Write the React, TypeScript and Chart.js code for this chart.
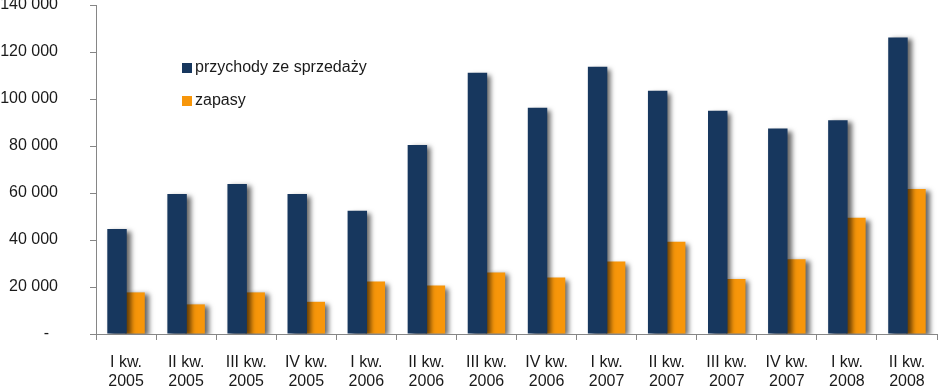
import React, { useEffect, useRef } from "react";
import { Chart, registerables } from "chart.js";

Chart.register(...registerables);

const categories: string[][] = [
  ["I kw.", "2005"], ["II kw.", "2005"], ["III kw.", "2005"], ["IV kw.", "2005"],
  ["I kw.", "2006"], ["II kw.", "2006"], ["III kw.", "2006"], ["IV kw.", "2006"],
  ["I kw.", "2007"], ["II kw.", "2007"], ["III kw.", "2007"], ["IV kw.", "2007"],
  ["I kw.", "2008"], ["II kw.", "2008"],
];

const przychody: number[] = [
  44700, 59600, 63800, 59600, 52500, 80400, 111200, 96300,
  113700, 103500, 95000, 87400, 91000, 126200,
];

const zapasy: number[] = [
  17700, 12600, 17700, 13700, 22300, 20600, 26200, 24000,
  30800, 39300, 23400, 31800, 49500, 61700,
];

const seriesNames: string[] = ["przychody ze sprzedaży", "zapasy"];
const seriesColors: string[] = ["#17375E", "#F7960A"];

const FONT = "'Liberation Sans', Arial, sans-serif";

const fmt = (v: number) =>
  v === 0 ? "-  " : String(v).replace(/\B(?=(\d{3})+(?!\d))/g, " ");

const shadowPlugin = {
  id: "barShadow",
  beforeDatasetsDraw(chart: any) {
    const ctx = chart.ctx;
    ctx.save();
    ctx.shadowColor = "rgba(0,0,0,0.6)";
    ctx.shadowBlur = 5;
    ctx.shadowOffsetX = 4;
    ctx.shadowOffsetY = 2;
  },
  afterDatasetsDraw(chart: any) {
    chart.ctx.restore();
  },
};

const legendPlugin = {
  id: "customLegend",
  afterDraw(chart: any) {
    const ctx = chart.ctx;
    ctx.save();
    const x = 182;
    const ys = [68, 101];
    ctx.font = `16px ${FONT}`;
    ctx.textBaseline = "middle";
    ctx.textAlign = "left";
    seriesNames.forEach((name, i) => {
      ctx.fillStyle = seriesColors[i];
      ctx.fillRect(x, ys[i] - 5, 10, 10);
      ctx.fillStyle = "#1a1a1a";
      ctx.fillText(name, x + 13, ys[i]);
    });
    ctx.restore();
  },
};

export default function App() {
  const ref = useRef<HTMLCanvasElement | null>(null);

  useEffect(() => {
    document.body.style.margin = "0";
    if (!ref.current) return;
    const chart = new Chart(ref.current, {
      type: "bar",
      data: {
        labels: categories,
        datasets: [
          {
            label: seriesNames[0],
            data: przychody,
            backgroundColor: seriesColors[0],
            categoryPercentage: 0.6,
            barPercentage: 1.08,
          },
          {
            label: seriesNames[1],
            data: zapasy,
            backgroundColor: seriesColors[1],
            categoryPercentage: 0.6,
            barPercentage: 1.08,
          },
        ],
      },
      options: {
        animation: false,
        responsive: false,
        maintainAspectRatio: false,
        layout: { padding: { top: 5, right: 3, left: 0, bottom: 0 } },
        plugins: {
          legend: { display: false },
          tooltip: { enabled: false },
        },
        scales: {
          x: {
            grid: {
              display: true,
              drawOnChartArea: false,
              drawTicks: true,
              tickLength: 6,
              color: "#868686",
              offset: true,
            },
            border: { display: true, color: "#868686", width: 1 },
            ticks: {
              color: "#1a1a1a",
              font: { family: FONT, size: 16, lineHeight: 1.2 },
              padding: 13,
              maxRotation: 0,
              autoSkip: false,
            },
            afterFit(scale: any) {
              scale.height = 52;
              scale.paddingLeft = 0;
              scale.paddingRight = 0;
            },
          },
          y: {
            min: 0,
            max: 140000,
            grid: {
              display: true,
              drawOnChartArea: false,
              drawTicks: true,
              tickLength: 6,
              color: "#868686",
            },
            border: { display: true, color: "#868686", width: 1 },
            ticks: {
              stepSize: 20000,
              color: "#1a1a1a",
              font: { family: FONT, size: 16 },
              padding: 32,
              callback: (v: any) => fmt(Number(v)),
            },
            afterFit(scale: any) {
              scale.width = 96;
              scale.paddingTop = 0;
              scale.paddingBottom = 0;
            },
          },
        },
      },
      plugins: [shadowPlugin, legendPlugin],
    });
    return () => chart.destroy();
  }, []);

  return (
    <div style={{ width: 940, height: 386, position: "relative", background: "#fff" }}>
      <canvas ref={ref} width={940} height={386} style={{ display: "block" }} />
    </div>
  );
}
